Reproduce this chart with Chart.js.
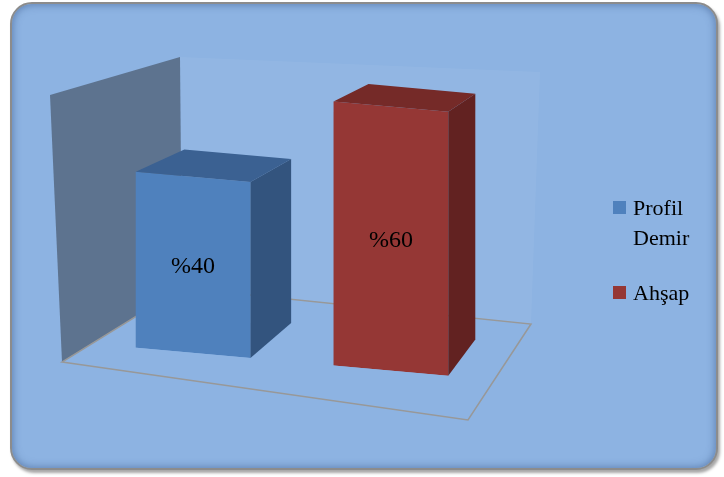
<!DOCTYPE html>
<html>
<head>
    <meta charset="UTF-8">
    <title>Profil Demir / Ahşap</title>
    <script src="https://cdn.jsdelivr.net/npm/chart.js@4.4.0/dist/chart.umd.min.js"></script>
    <style>
        html, body { margin: 0; padding: 0; background: #fff; }
        #wrap { position: relative; width: 724px; height: 477px; font-family: "Liberation Serif", "Times New Roman", serif; }
        #panel {
            position: absolute; left: 10px; top: 2px; width: 704px; height: 464px;
            border: 2px solid #8c8c8c; border-radius: 22px; background: #8db3e2;
            box-shadow: inset 0 0 8px rgba(40, 70, 120, 0.55), 2px 3px 3px rgba(0, 0, 0, 0.35);
        }
        #chart { position: absolute; left: 0; top: 0; }
        .val { position: absolute; font-size: 24px; color: #000; white-space: nowrap; transform: translate(-50%, -50%); line-height: 1; }
        #legend { position: absolute; left: 613px; top: 193px; font-size: 22px; line-height: 30px; color: #000; }
        .item { display: flex; align-items: flex-start; margin-bottom: 25px; }
        .box { width: 13px; height: 13px; margin-top: 8px; margin-right: 7px; }
        .name { width: 80px; }
    </style>
</head>
<body>
<div id="wrap">
    <div id="panel"></div>
    <canvas id="chart" width="724" height="477"></canvas>
    <div id="legend"></div>
</div>

<script>
    // data
    const seriesNames = ['Profil Demir', 'Ahşap'];
    const seriesValues = [40, 60];
    const categoryLabels = [''];

    // styles
    const FRONT = ['#4f81bd', '#953735'];
    const TOP = ['#3b6192', '#752a28'];
    const SIDE = ['#33547e', '#622221'];

    // fake 3d: floor slope on the fronts, vanishing point for the depth faces
    const SKEW = 0.09;
    const VP = { x: 840, y: -150 };
    const DEPTH = 0.069;

    function poly(ctx, pts, fill, stroke) {
        ctx.beginPath();
        ctx.moveTo(pts[0][0], pts[0][1]);
        for (let i = 1; i < pts.length; i++) ctx.lineTo(pts[i][0], pts[i][1]);
        ctx.closePath();
        if (fill) { ctx.fillStyle = fill; ctx.fill(); }
        if (stroke) { ctx.strokeStyle = stroke; ctx.lineWidth = 1.5; ctx.stroke(); }
    }

    let labelsDone = false;

    const box3d = {
        id: 'box3d',
        beforeDatasetsDraw(chart) {
            const ctx = chart.ctx;
            const L = chart.chartArea.left, B = chart.chartArea.bottom;
            const p = (dx, dy) => [L + dx, B + dy];
            const FLB = p(0, 21), FRB = p(406, 79), BRB = p(469, -17), BLB = p(120, -53);
            const FLT = p(-12, -246), BLT = p(118, -284), BRT = p(478, -269);

            ctx.save();
            poly(ctx, [BLT, BRT, BRB, BLB], 'rgba(255,255,255,0.05)');
            poly(ctx, [FLT, BLT, BLB, FLB], '#5d738f');
            poly(ctx, [FLB, FRB, BRB, BLB], null, '#989898');
            ctx.restore();

            // bars get sheared along the floor
            ctx.save();
            ctx.transform(1, SKEW, 0, 1, 0, -SKEW * L);
        },
        afterDatasetsDraw(chart) {
            const ctx = chart.ctx;
            ctx.restore();
            const L = chart.chartArea.left;
            const sk = (x, y) => [x, y + SKEW * (x - L)];
            const back = pt => [pt[0] + DEPTH * (VP.x - pt[0]), pt[1] + DEPTH * (VP.y - pt[1])];

            chart.data.datasets.forEach((ds, i) => {
                const bar = chart.getDatasetMeta(i).data[0];
                const { x, y, base, width } = bar.getProps(['x', 'y', 'base', 'width'], true);
                const l = x - width / 2, r = x + width / 2;
                const tl = sk(l, y), tr = sk(r, y), br = sk(r, base);
                poly(ctx, [tl, tr, back(tr), back(tl)], TOP[i]);
                poly(ctx, [tr, br, back(br), back(tr)], SIDE[i]);
            });
        },
        afterRender(chart) {
            if (labelsDone) return;
            labelsDone = true;
            const wrap = document.getElementById('wrap');
            const L = chart.chartArea.left;

            // value labels centred on the bar fronts
            chart.data.datasets.forEach((ds, i) => {
                const bar = chart.getDatasetMeta(i).data[0];
                const cy = (bar.y + bar.base) / 2 + SKEW * (bar.x - L);
                const el = document.createElement('div');
                el.className = 'val';
                el.textContent = '%' + ds.data[0];
                el.style.left = bar.x + 'px';
                el.style.top = cy + 'px';
                wrap.appendChild(el);
            });

            // legend on the right, long names wrap like the original
            const legend = document.getElementById('legend');
            chart.data.datasets.forEach(ds => {
                const item = document.createElement('div');
                item.className = 'item';
                const box = document.createElement('div');
                box.className = 'box';
                box.style.background = ds.backgroundColor;
                const name = document.createElement('div');
                name.className = 'name';
                name.textContent = ds.label;
                item.appendChild(box);
                item.appendChild(name);
                legend.appendChild(item);
            });
        }
    };

    new Chart(document.getElementById('chart'), {
        type: 'bar',
        data: {
            labels: categoryLabels,
            datasets: seriesNames.map((name, i) => ({
                label: name,
                data: [seriesValues[i]],
                backgroundColor: FRONT[i],
                borderWidth: 0
            }))
        },
        options: {
            responsive: false,
            animation: false,
            categoryPercentage: 0.86,
            barPercentage: 0.58,
            layout: { padding: { left: 62, right: 202, top: 33, bottom: 136 } },
            scales: {
                x: { display: false },
                y: { display: false, min: 0, max: 70 }
            },
            plugins: {
                legend: { display: false },
                tooltip: { enabled: false }
            }
        },
        plugins: [box3d]
    });
</script>
</body>
</html>
